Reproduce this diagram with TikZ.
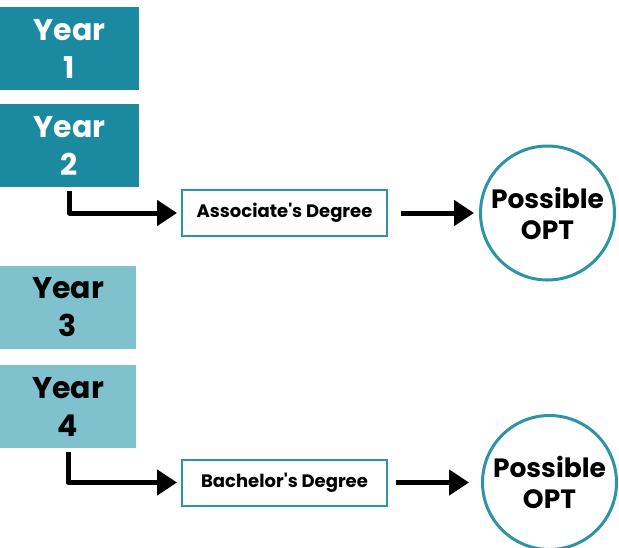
\documentclass[tikz,border=0pt]{standalone}
\usepackage{fontspec}
\setmainfont{Poppins}
\usepackage{xcolor}
\usetikzlibrary{arrows.meta, positioning, shapes.geometric}
\definecolor{tealdark}{RGB}{27,138,160}
\definecolor{teallight}{RGB}{127,193,205}
\definecolor{tealline}{RGB}{45,147,166}
\tikzset{
    year/.style={minimum width=139pt, minimum height=83pt, inner sep=0pt, align=center, font=\fontsize{30}{38}\selectfont\bfseries}, % the year boxes
    darkyear/.style={year, fill=tealdark, text=white},
    lightyear/.style={year, fill=teallight, text=black, minimum width=136pt},
    degree/.style={draw=tealline, line width=2pt, fill=white, minimum width=205pt, minimum height=46pt, font=\fontsize{18}{21}\selectfont\bfseries},
    opt/.style={circle, draw=tealline, line width=3pt, minimum size=134pt, inner sep=0pt, align=center, font=\fontsize{26.5}{31}\selectfont\bfseries},
}
\tikzstyle{arrow} = [line width=5pt, line join=round, -{Triangle[length=20pt, width=25pt]}]

\begin{document}
\begin{tikzpicture}[x=1pt, y=-1pt]
    \useasboundingbox (0,0) rectangle (619,547);
    \node[darkyear] (y1) at (69.5,48.5) {Year\\1};
    \node[darkyear, below=14pt of y1] (y2) {Year\\2};
    \node[degree] (assoc) at (284.5,213) {Associate\textquotesingle s Degree};
    \node[opt, right=91pt of assoc] (opt1) {Possible\\OPT};

    \node[lightyear] (y3) at (68,307.5) {Year\\3};
    \node[lightyear, below=16pt of y3] (y4) {Year\\4};
    \node[degree] (bach) at (284.5,482.5) {Bachelor\textquotesingle s Degree};
    \node[opt, right=93pt of bach] (opt2) {Possible\\OPT};

    \draw[arrow, shorten >=4pt] ([yshift=-3pt]y2.south) |- (assoc.west);
    \draw[arrow, shorten <=13pt, shorten >=5pt] (assoc.east) -- (opt1.west);
    \draw[arrow, shorten >=4pt] ([yshift=-3pt]y4.south) |- (bach.west);
    \draw[arrow, shorten <=8pt, shorten >=12pt] (bach.east) -- (opt2.west);
\end{tikzpicture}
\end{document}
